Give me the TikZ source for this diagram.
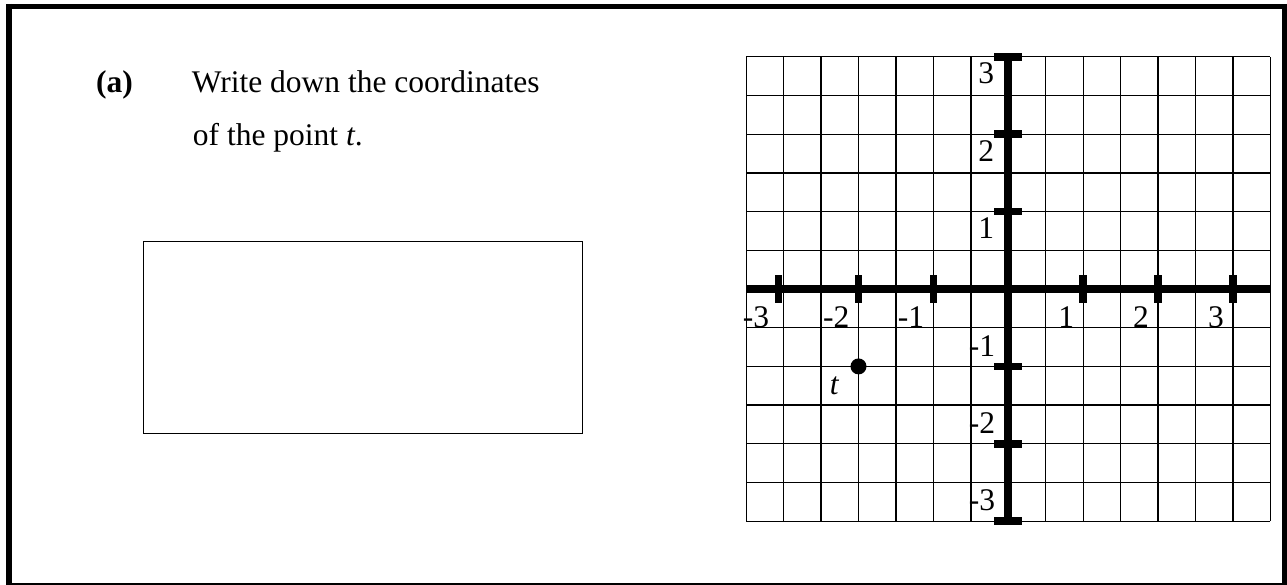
\documentclass[tikz,border=0pt]{standalone}
\usepackage{fontspec}
\setmainfont{Liberation Serif}
\begin{document}
\begin{tikzpicture}[x=1pt,y=-1pt,
  txt/.style={inner sep=0pt,font=\fontsize{31.5}{38}\selectfont},
  gridline/.style={line width=1.3pt,black},
  axisline/.style={line width=8pt,black},
  tickmark/.style={line width=7.5pt,black},
  framethick/.style={line width=6pt,black},
  answerbox/.style={draw,line width=1.2pt,minimum width=439pt,minimum height=192pt,inner sep=0pt}]
\useasboundingbox (0,0) rectangle (1287,585);
% outer frame
\draw[framethick] (9,4) -- (9,585);
\draw[line width=5.3pt] (6,6.7) -- (1287,6.7);
\draw[line width=5pt] (1284.5,4) -- (1284.5,585);
\draw[line width=1.5pt] (6,584) -- (1287,584);
% question text
\node[txt,anchor=base west] (qa) at (96,93) {\bfseries (a)};
\node[txt,anchor=base west] (l1) at (191.7,93) {Write down the coordinates};
\node[txt,anchor=base west] (l2) at (192.7,146) {of the point \textit{t}.};
% answer box
\node[answerbox,anchor=north west] (ans) at (142.7,241) {};
% graph
\begin{scope}[shift={(1008.3pt,-289pt)},x=74.9pt,y=77.4pt]
  \foreach \i in {-7,...,7} \draw[gridline] (\i/2,-3) -- (\i/2,3);
  \foreach \j in {-6,...,6} \draw[gridline] (-3.5,\j/2) -- (3.5,\j/2);
  \coordinate (xl) at (-3.5,0);
  \coordinate (xr) at (3.5,0);
  \coordinate (yt) at (0,3);
  \coordinate (yb) at (0,-3);
  \draw[axisline] (xl) -- (xr);
  \draw[axisline] (yb) -- (yt);
  % x ticks and labels
  \foreach \t/\p/\lab in {-3/-3.07/-3,-2/-2/-2,-1/-1/-1,1/1/1,2/2/2,3/3/3} {
    \draw[tickmark] ([yshift=13.5pt]\p,0) -- ([yshift=-13.5pt]\p,0);
    \node[txt,anchor=north east] (xlab\t) at ([xshift=-9pt,yshift=-17.5pt]\p,0) {\lab};
  }
  % y ticks and labels
  \foreach \t in {1,2,3} {
    \draw[tickmark] ([xshift=-14pt]0,\t) -- ([xshift=14pt]0,\t);
    \node[txt,anchor=north east] (ylab\t) at ([xshift=-14pt,yshift=-6pt]0,\t) {\t};
  }
  \foreach \t/\lab in {-1/-1,-2/-2,-3/-3} {
    \draw[tickmark] ([xshift=-14pt]0,\t) -- ([xshift=14pt]0,\t);
    \node[txt,anchor=south east] (ylabm\lab) at ([xshift=-13pt,yshift=10pt]0,\t) {\lab};
  }
  % point t
  \node[circle,fill=black,inner sep=0pt,minimum size=16pt] (pt) at (-2,-1) {};
  \node[txt,anchor=north east] (tlab) at ([xshift=-19pt,yshift=-10pt]pt.center) {\textit{t}};
\end{scope}
\end{tikzpicture}
\end{document}
